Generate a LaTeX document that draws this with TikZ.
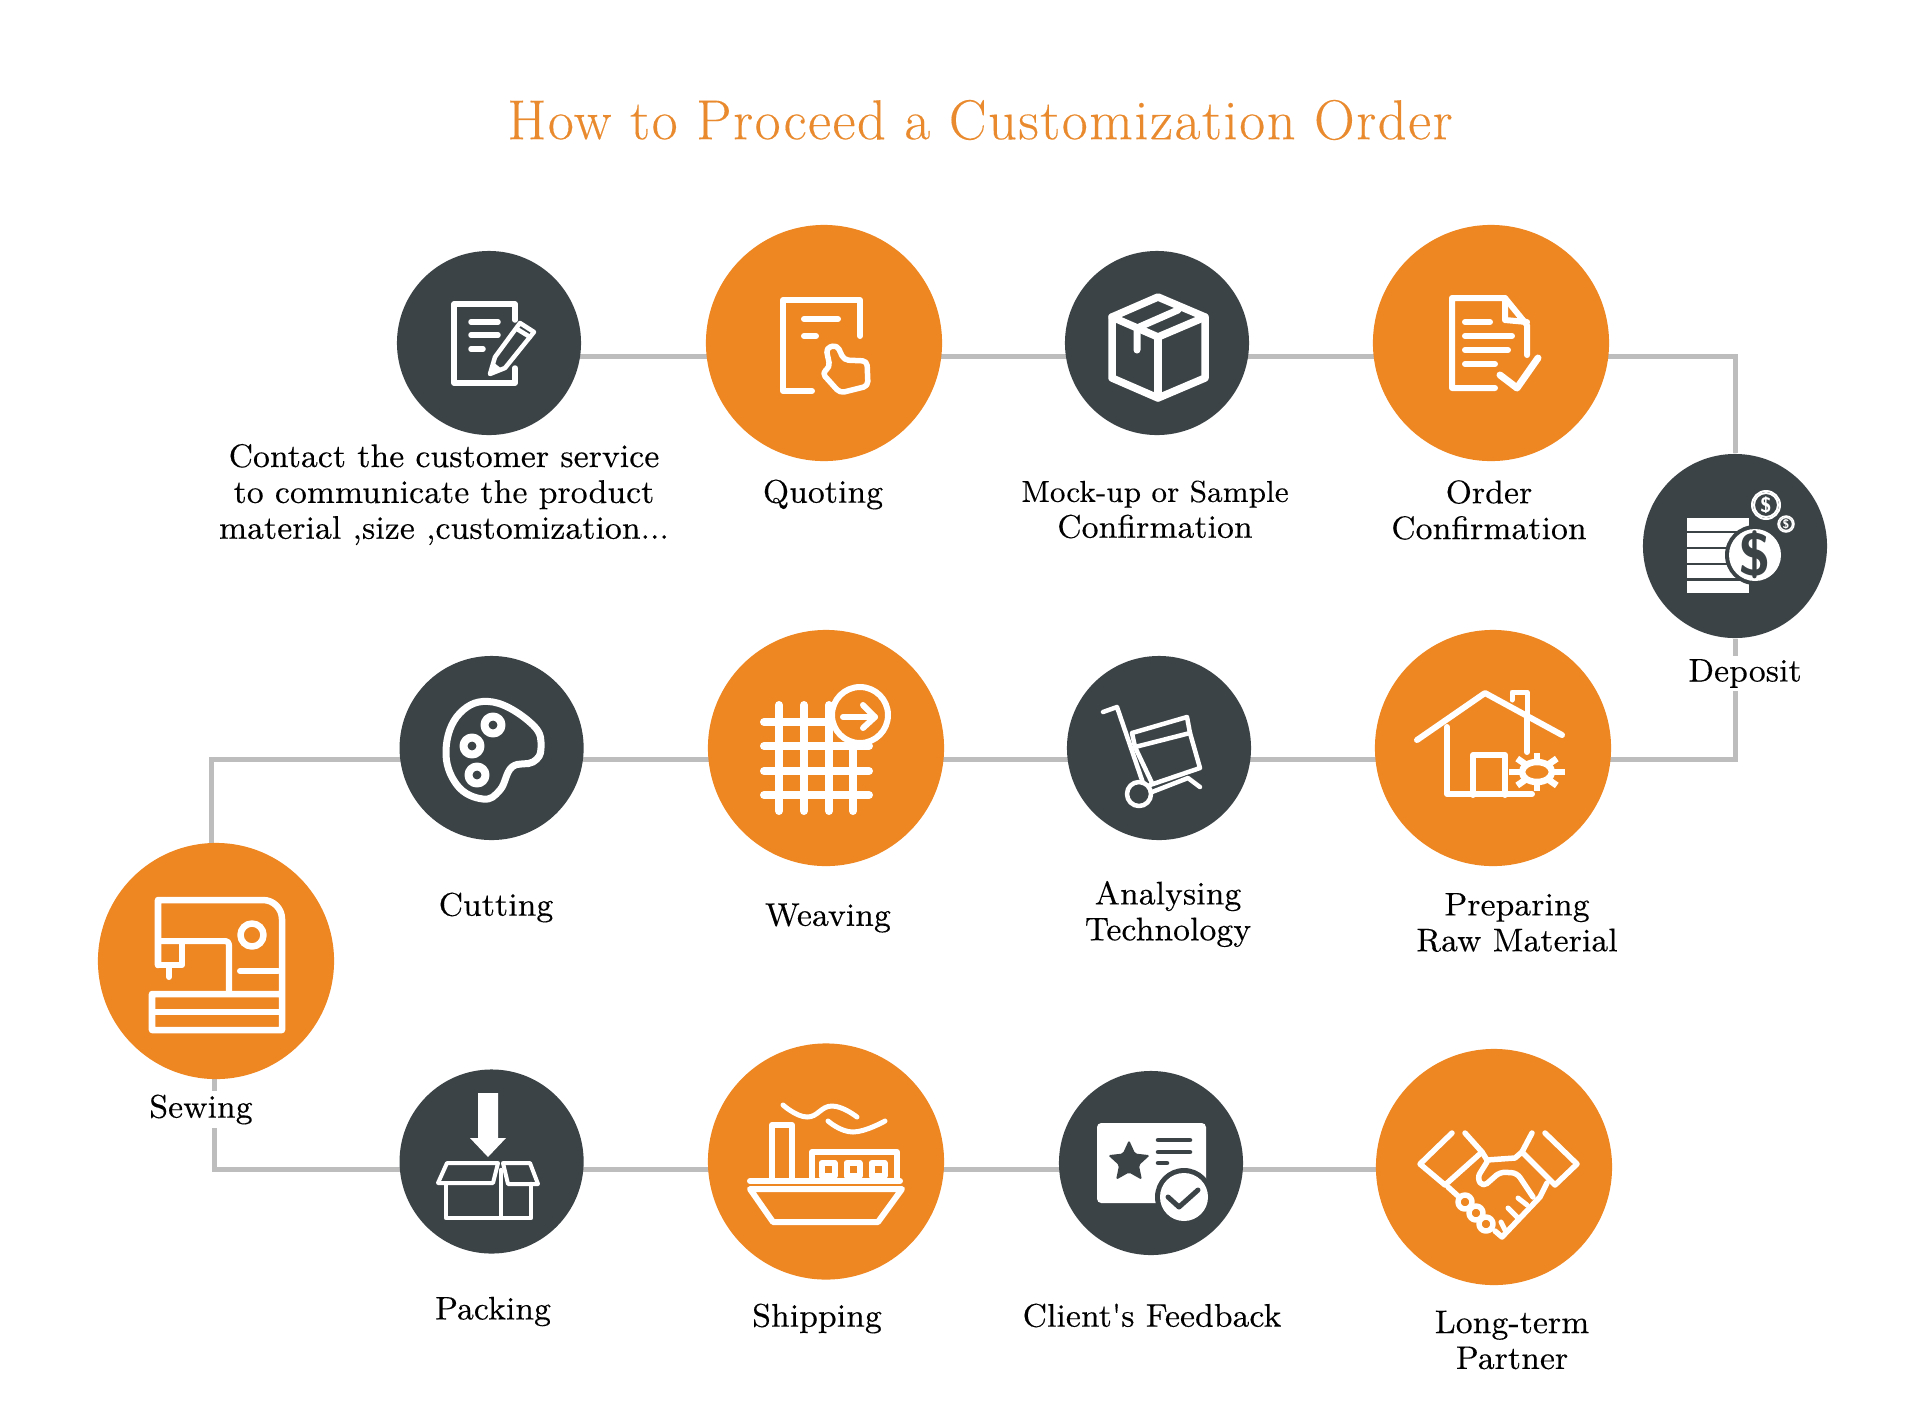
\documentclass[tikz,border=0pt]{standalone}
\usepackage{fontspec}
\usepackage{xcolor}
\setmainfont{Latin Modern Roman}
\usetikzlibrary{backgrounds,shapes.geometric}
\definecolor{slatedark}{HTML}{3C4347}
\definecolor{pumpkin}{HTML}{EE8622}
\definecolor{linkgrey}{HTML}{BDBDBD}
\definecolor{titleorange}{HTML}{E98A2E}
\newcommand{\widetext}{\addfontfeatures{LetterSpace=0.3,FakeBold=0.25}}
\tikzset{
  darkdot/.style={circle,fill=slatedark,minimum size=1.84cm,inner sep=0pt},
  orangedot/.style={circle,fill=pumpkin,minimum size=2.36cm,inner sep=0pt},
  link/.style={draw=linkgrey,line width=0.5mm},
  steplabel/.style={align=center,inner sep=0pt,font=\fontsize{9.3}{10.2}\selectfont\widetext},
  covered/.style={steplabel,fill=white,inner ysep=1pt},
  titlenode/.style={text=titleorange,inner sep=0pt,font=\fontsize{16}{20}\selectfont\addfontfeatures{LetterSpace=2.9,FakeBold=0.25}},
  iconline/.style={draw=white,line width=0.55mm,line cap=round,line join=round},
  darkline/.style={draw=slatedark,line width=0.45mm,line cap=round,line join=round}
}
\begin{document}
\begin{tikzpicture}[x=0.01cm,y=-0.01cm]
\useasboundingbox (0,0) rectangle (1920,1414);
\coordinate (rowa) at (0,356);
\coordinate (rowb) at (0,759);
\coordinate (rowc) at (0,1169);
\coordinate (sewtop) at (211,961);
\coordinate (sewlow) at (214,961);

\node[titlenode] (title) at (980,120) {How to Proceed a Customization Order};

\node[darkdot] (contact) at (489,343) {};
\node[orangedot] (quoting) at (824,343) {};
\node[darkdot] (mockup) at (1157,343) {};
\node[orangedot] (order) at (1491,343) {};
\node[darkdot] (deposit) at (1735,546) {};
\node[orangedot] (preparing) at (1493,748) {};
\node[darkdot] (analysing) at (1159,748) {};
\node[orangedot] (weaving) at (826,748) {};
\node[darkdot] (cutting) at (491.6,748) {};
\node[orangedot] (sewing) at (216,961) {};
\node[darkdot] (packing) at (491.6,1161.5) {};
\node[orangedot] (shipping) at (826,1161.5) {};
\node[darkdot] (feedback) at (1151,1163) {};
\node[orangedot] (partner) at (1494,1167) {};

\node[steplabel] (contactlabel) at (444,494.5) {Contact the customer service\\to communicate the product\\material ,size ,customization...};
\node[steplabel] (quotinglabel) at (823,494.5) {Quoting};
\node[steplabel] (mockuplabel) at (1155,509.5) {{\fontsize{8.6}{10.2}\selectfont Mock-up or Sample}\\Confirmation};
\node[steplabel] (orderlabel) at (1489,510) {Order\\Confirmation};
\node[covered] (depositlabel) at (1745,673.5) {Deposit};
\node[steplabel] (preparinglabel) at (1517,922.5) {Preparing\\Raw Material};
\node[steplabel] (analysinglabel) at (1168,914) {Analysing\\Technology};
\node[steplabel] (weavinglabel) at (828,918) {Weaving};
\node[steplabel] (cuttinglabel) at (496,907.5) {Cutting};
\node[covered] (sewinglabel) at (201,1109.5) {Sewing};
\node[steplabel] (packinglabel) at (493,1311.5) {Packing};
\node[steplabel] (shippinglabel) at (817,1318.5) {Shipping};
\node[steplabel] (feedbacklabel) at (1152,1315.5) {Client\textquotesingle s Feedback};
\node[steplabel] (partnerlabel) at (1512,1340) {Long-term\\Partner};

\begin{scope}[on background layer]
\draw[link] (contact |- rowa) -- (quoting |- rowa);
\draw[link] (quoting |- rowa) -- (mockup |- rowa);
\draw[link] (mockup |- rowa) -- (order |- rowa);
\draw[link] (order |- rowa) -| (deposit);
\draw[link] (deposit) |- (preparing |- rowb);
\draw[link] (preparing |- rowb) -- (analysing |- rowb);
\draw[link] (analysing |- rowb) -- (weaving |- rowb);
\draw[link] (weaving |- rowb) -- (cutting |- rowb);
\draw[link] (cutting |- rowb) -| (sewtop);
\draw[link] (sewlow) |- (packing |- rowc);
\draw[link] (packing |- rowc) -- (shipping |- rowc);
\draw[link] (shipping |- rowc) -- (feedback |- rowc);
\draw[link] (feedback |- rowc) -- (partner |- rowc);
\end{scope}

\draw[iconline] (515,320) -- (515,304) -- (454,304) -- (454,383) -- (515,383) -- (515,368);
\draw[iconline] (471,322) -- (498,322);
\draw[iconline] (471,335) -- (498,335);
\draw[iconline] (471,349) -- (483,349);
\draw[iconline,line width=0.45mm] (490,374) -- (495,357) -- (520,323) -- (534,332) -- (505,368) -- cycle;
\draw[iconline,line width=0.45mm] (517,329) -- (530,337);
\fill[white] (490,374) -- (493,362) -- (502,369) -- cycle;

\draw[iconline,line width=0.6mm] (860,336) -- (860,300) -- (783,300) -- (783,391) -- (812,391);
\draw[iconline,line width=0.6mm] (804,319) -- (838,319);
\draw[iconline,line width=0.6mm] (804,336) -- (816,336);
\draw[iconline,rounded corners=1.3pt] (830,367) -- (826,348) -- (837,345) -- (844,360) -- (867,361) -- (868,386) -- (840,393) -- (822,373) -- cycle;

\draw[iconline,line width=0.75mm] (1158,297) -- (1205,317) -- (1205,378) -- (1158,398) -- (1112,378) -- (1112,317) -- cycle;
\draw[iconline,line width=0.75mm] (1112,317) -- (1158,337) -- (1205,317);
\draw[iconline,line width=0.75mm] (1158,337) -- (1158,398);
\draw[iconline,line width=0.7mm] (1137,350) -- (1137,328) -- (1178,310);

\draw[iconline,line width=0.6mm] (1495,388) -- (1452,388) -- (1452,298) -- (1505,298) -- (1527,325) -- (1527,355);
\draw[iconline,line width=0.6mm] (1505,298) -- (1505,320) -- (1527,322);
\draw[iconline,line width=0.6mm] (1465,322) -- (1490,322);
\draw[iconline,line width=0.6mm] (1465,336) -- (1512,336);
\draw[iconline,line width=0.6mm] (1465,350) -- (1508,350);
\draw[iconline,line width=0.6mm] (1465,364) -- (1495,364);
\draw[iconline,line width=0.7mm] (1500,375) -- (1517,388) -- (1538,358);

\fill[white] (1687,518) rectangle (1749,531);
\fill[white] (1687,533) rectangle (1749,547);
\fill[white] (1687,549) rectangle (1749,563);
\fill[white] (1687,565) rectangle (1749,578);
\fill[white] (1687,581) rectangle (1749,593);
\fill[slatedark] (1755,555) circle[radius=30];
\fill[white] (1755,555) circle[radius=26];
\node[inner sep=0pt,text=slatedark,font=\fontsize{17}{17}\selectfont\sffamily\bfseries] (bigcoin) at (1755,555) {\$};
\node[circle,draw=white,line width=0.2mm,minimum size=0.24cm,inner sep=0pt,text=white,font=\fontsize{6}{6}\selectfont\sffamily\bfseries] (midcoin) at (1766,505) {\$};
\draw[white,line width=0.2mm] (midcoin) circle[radius=14];
\node[circle,draw=white,line width=0.15mm,minimum size=0.13cm,inner sep=0pt,text=white,font=\fontsize{3.5}{4}\selectfont\sffamily\bfseries] (smallcoin) at (1786,524) {\$};
\draw[white,line width=0.15mm] (smallcoin) circle[radius=8];

\draw[iconline,line width=0.6mm] (1417,740) -- (1485,693) -- (1562,735);
\draw[iconline,line width=0.6mm] (1447,727) -- (1447,794) -- (1532,794);
\draw[iconline,line width=0.6mm] (1527,713) -- (1527,752);
\draw[iconline,line width=0.6mm] (1473,795) -- (1473,755) -- (1505,755) -- (1505,795);
\draw[iconline,line width=0.5mm] (1512,700) -- (1512,692) -- (1527,692) -- (1527,713);
\foreach \a in {0,45,...,315}
  \draw[iconline,line width=0.65mm,line cap=butt] ({1537+15*cos(\a)},{772+10*sin(\a)}) -- ({1537+28*cos(\a)},{772+19*sin(\a)});
\draw[iconline,line width=0.65mm] (1537,772) ellipse (15 and 10);

\draw[iconline,line width=0.45mm] (1103,712) -- (1117,707) -- (1143,783);
\draw[iconline,line width=0.45mm] (1139,794) circle[radius=12];
\draw[iconline,line width=0.45mm] (1150,785) -- (1200,768) -- (1190,733) -- (1187,717) -- (1132,733) -- (1135,747) -- (1152,783);
\draw[iconline,line width=0.45mm] (1135,747) -- (1190,733);
\draw[iconline,line width=0.45mm] (1152,792) -- (1188,778) -- (1200,787);

\draw[iconline,line width=0.7mm] plot[smooth cycle,tension=0.7] coordinates {(493,702) (533,725) (541,748) (533,762) (512,767) (500,790) (483,799) (457,785) (446,750) (460,713)};
\draw[iconline,line width=0.8mm,fill=slatedark] (493,725) circle[radius=8.5];
\draw[iconline,line width=0.8mm,fill=slatedark] (472,746) circle[radius=8.5];
\draw[iconline,line width=0.8mm,fill=slatedark] (477,775) circle[radius=8.5];

\foreach \vx in {779,804,829}
  \draw[iconline,line width=0.8mm] (\vx,705) -- (\vx,811);
\draw[iconline,line width=0.8mm] (853,740) -- (853,811);
\foreach \hy in {722,746,771,795}
  \draw[iconline,line width=0.8mm] (764,\hy) -- (869,\hy);
\draw[iconline,line width=0.6mm,fill=pumpkin] (860,715) circle[radius=28];
\draw[iconline,line width=0.6mm] (843,717) -- (875,717);
\draw[iconline,line width=0.6mm] (863,705) -- (875,717) -- (863,728);

\draw[iconline,line width=0.65mm] (158,965) -- (158,900) -- (263,900) arc[start angle=-90,end angle=0,radius=19] -- (282,1030) -- (152,1030) -- (152,994) -- (282,994);
\draw[iconline,line width=0.6mm] (152,1012) -- (282,1012);
\draw[iconline,line width=0.6mm,rounded corners=1pt] (158,941) -- (229,941) -- (229,994);
\draw[iconline,line width=0.6mm] (158,965) -- (182,965) -- (182,942);
\draw[iconline,line width=0.6mm] (169,967) -- (169,977);
\draw[iconline,line width=0.65mm] (252,935) circle[radius=11.5];
\draw[iconline,line width=0.6mm] (240,971) -- (278,971);

\fill[white] (478,1093) -- (498,1093) -- (498,1138) -- (506,1138) -- (488,1157) -- (470,1138) -- (478,1138) -- cycle;
\draw[iconline,line width=0.4mm] (447,1163) -- (498,1163) -- (493,1183) -- (438,1183) -- cycle;
\draw[iconline,line width=0.4mm] (503,1163) -- (530,1163) -- (538,1184) -- (508,1184) -- cycle;
\draw[iconline,line width=0.45mm] (446,1184) -- (446,1218) -- (531,1218) -- (531,1184);
\draw[iconline,line width=0.45mm] (501,1170) -- (501,1217);

\draw[iconline,line width=0.6mm] (750,1189) -- (902,1189) -- (878,1222) -- (773,1222) -- cycle;
\draw[iconline,line width=0.6mm] (750,1181) -- (900,1181);
\draw[iconline,line width=0.6mm] (772,1181) -- (772,1125) -- (792,1125) -- (792,1181);
\draw[iconline,line width=0.6mm] (812,1181) -- (812,1152) -- (897,1152) -- (897,1181);
\draw[iconline,line width=0.6mm] (821.5,1163) rectangle (834.5,1176);
\draw[iconline,line width=0.6mm] (846.5,1163) rectangle (859.5,1176);
\draw[iconline,line width=0.6mm] (871.5,1163) rectangle (884.5,1176);
\draw[iconline,line width=0.5mm] plot[smooth,tension=0.8] coordinates {(783,1105) (807,1117) (832,1106) (857,1117)};
\draw[iconline,line width=0.5mm] plot[smooth,tension=0.8] coordinates {(828,1121) (853,1132) (885,1121)};

\fill[white,rounded corners=1.2pt] (1097,1123) rectangle (1206,1203);
\node[star,star points=5,star point ratio=2.1,fill=slatedark,minimum size=0.44cm,inner sep=0pt,rounded corners=0.5pt] (cardstar) at (1129,1162) {};
\draw[darkline] (1158,1140) -- (1190,1140);
\draw[darkline] (1158,1152) -- (1190,1152);
\draw[darkline] (1158,1163) -- (1167,1163);
\fill[slatedark] (1184,1197) circle[radius=29];
\fill[white] (1184,1197) circle[radius=24];
\draw[darkline,line width=0.5mm] (1168,1197) -- (1179,1207) -- (1198,1190);

\draw[iconline,line width=0.55mm] (1452,1133) -- (1420,1164) -- (1445,1185) -- (1482,1152) -- (1465,1133);
\draw[iconline,line width=0.55mm] (1545,1133) -- (1577,1164) -- (1555,1185) -- (1522,1152) -- (1532,1133);
\draw[iconline,line width=0.55mm] (1482,1152) -- (1487,1160) -- (1515,1158) -- (1522,1152);
\draw[iconline,line width=0.55mm,rounded corners=1.5pt] (1487,1162) -- (1477,1178) -- (1483,1187) -- (1500,1172) -- (1517,1173) -- (1533,1197);
\draw[iconline,line width=0.55mm] (1448,1187) -- (1458,1196);
\draw[iconline,line width=0.55mm] (1495,1231) -- (1502,1237) -- (1540,1197) -- (1547,1183);
\draw[iconline,line width=0.55mm] (1465,1202) circle[radius=7];
\draw[iconline,line width=0.55mm] (1476,1213) circle[radius=7];
\draw[iconline,line width=0.55mm] (1486,1224) circle[radius=7];
\draw[iconline,line width=0.5mm] (1501,1222) -- (1505,1230);
\draw[iconline,line width=0.5mm] (1508,1208) -- (1518,1218);
\draw[iconline,line width=0.5mm] (1518,1198) -- (1527,1205);
\end{tikzpicture}
\end{document}
